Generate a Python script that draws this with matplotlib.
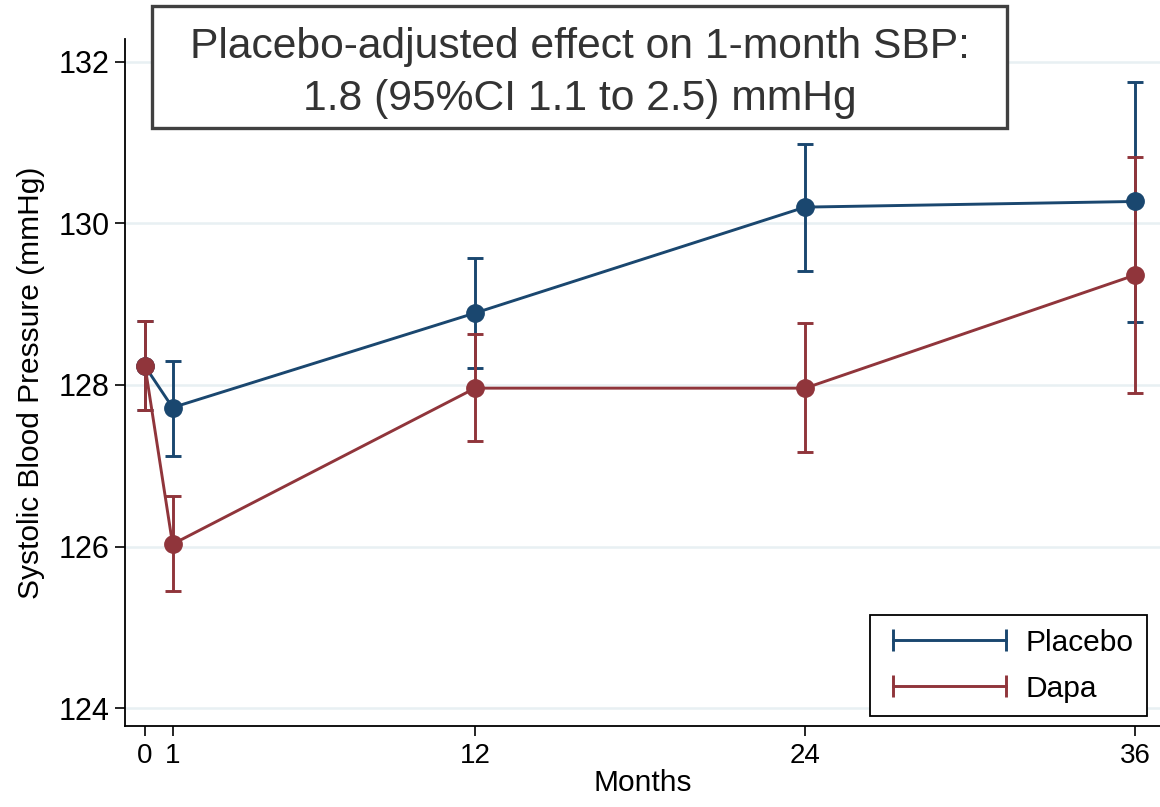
import matplotlib
matplotlib.use("Agg")
import matplotlib.pyplot as plt
from matplotlib.lines import Line2D
from matplotlib.patches import Rectangle

plt.rcParams['font.family'] = ['Liberation Sans', 'DejaVu Sans']

months = [0, 1, 12, 24, 36]
placebo_mean = [128.23, 127.72, 128.89, 130.20, 130.27]
placebo_lo = [127.69, 127.12, 128.21, 129.41, 128.78]
placebo_hi = [128.79, 128.30, 129.57, 130.98, 131.75]
dapa_mean = [128.23, 126.03, 127.96, 127.96, 129.36]
dapa_lo = [127.69, 125.45, 127.31, 127.17, 127.90]
dapa_hi = [128.79, 126.63, 128.63, 128.76, 130.82]

yticks = [124, 126, 128, 130, 132]
xticks = [0, 1, 12, 24, 36]

navy = '#1a476f'
maroon = '#90353b'

W, H = 1160, 807
fig = plt.figure(figsize=(W / 100, H / 100), dpi=100)
ax = fig.add_axes([125 / W, 1 - 726 / H, 1 - 125 / W, (726 - 39) / H])

for mean, lo, hi, col in [(placebo_mean, placebo_lo, placebo_hi, navy),
                          (dapa_mean, dapa_lo, dapa_hi, maroon)]:
    err = [[m - l for m, l in zip(mean, lo)], [h - m for m, h in zip(mean, hi)]]
    ax.errorbar(months, mean, yerr=err, color=col, lw=2.1, elinewidth=2.1,
                capsize=6, capthick=2.1, marker='o', markersize=12.5, zorder=3)

ax.set_xlim(-0.73, 36.9)
ax.set_ylim(123.78, 132.28)
ax.set_xticks(xticks)
ax.set_yticks(yticks)
ax.tick_params(axis='both', length=7, width=1.2, color='black')
ax.tick_params(axis='x', labelsize=20, pad=5)
ax.tick_params(axis='y', labelsize=22, pad=4)
ax.grid(axis='y', color='#e8f0f3', lw=1.8, zorder=0)
ax.set_axisbelow(True)
for s in ['top', 'right']:
    ax.spines[s].set_visible(False)
for s in ['left', 'bottom']:
    ax.spines[s].set_linewidth(1.3)

ax.set_xlabel('Months', fontsize=21.5, labelpad=0)
ax.set_ylabel('Systolic Blood Pressure (mmHg)', fontsize=21.5, labelpad=10)

# annotation box with the placebo-adjusted effect
bx0, by0, bx1, by1 = 152, 6, 1007, 128
fig.patches.append(Rectangle((bx0 / W, 1 - by1 / H), (bx1 - bx0) / W, (by1 - by0) / H,
                             transform=fig.transFigure, fc='white', ec='#404040',
                             lw=2.4, zorder=5))
fig.text((bx0 + bx1) / 2 / W, 1 - 73 / H,
         'Placebo-adjusted effect on 1-month SBP:\n1.8 (95%CI 1.1 to 2.5) mmHg',
         ha='center', va='center', fontsize=30.7, color='#333333',
         linespacing=1.39, zorder=6)

handles = [Line2D([], [], color=navy, lw=2.1, marker='|', markersize=16, mew=2.1),
           Line2D([], [], color=maroon, lw=2.1, marker='|', markersize=16, mew=2.1)]
leg = ax.legend(handles, ['Placebo', 'Dapa'], loc='lower right',
                bbox_to_anchor=((1147 - 125) / 1035, (726 - 716) / 687), numpoints=2,
                fontsize=21.5, handlelength=4.4, handletextpad=0.35,
                fancybox=False, framealpha=1, edgecolor='black',
                borderpad=0.45, labelspacing=0.6, borderaxespad=0)
leg.get_frame().set_linewidth(1.3)

fig.savefig('out.png', dpi=100)
